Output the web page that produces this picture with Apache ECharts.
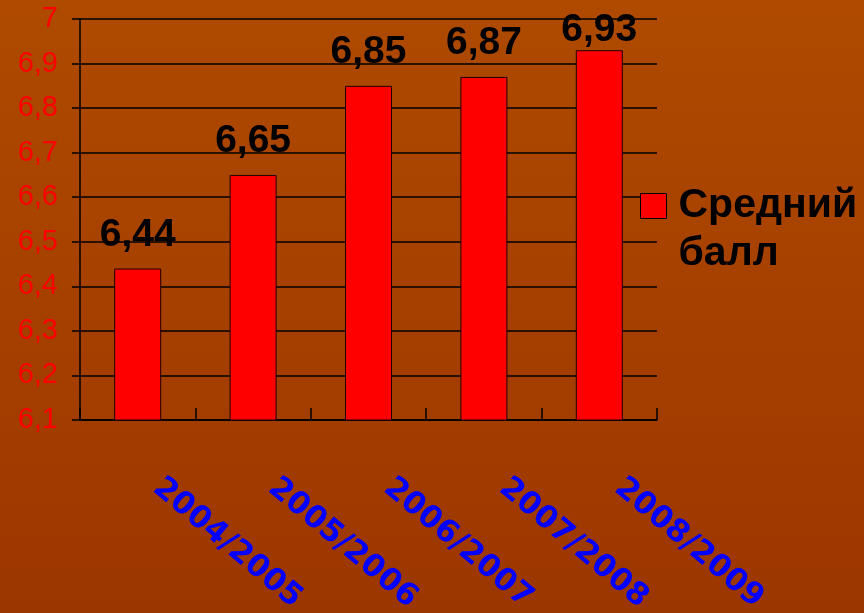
<!DOCTYPE html>
<html>
<head>
<meta charset="utf-8">
<script src="https://cdn.jsdelivr.net/npm/echarts@6/dist/echarts.min.js"></script>
<style>
html,body{margin:0;padding:0;width:864px;height:613px;overflow:hidden;}
#chart{width:864px;height:613px;}
</style>
</head>
<body>
<div id="chart"></div>
<script>
var categories = ['2004/2005', '2005/2006', '2006/2007', '2007/2008', '2008/2009'];
var seriesName = 'Средний балл';
var values = [6.44, 6.65, 6.85, 6.87, 6.93];
var yMin = 6.1, yMax = 7.0, yStep = 0.1;

var chart = echarts.init(document.getElementById('chart'));
chart.setOption({
  backgroundColor: {
    type: 'linear', x: 0, y: 0, x2: 0, y2: 1,
    colorStops: [{offset: 0, color: '#AF4A00'}, {offset: 1, color: '#9C3600'}]
  },
  animation: false,
  grid: {left: 80, right: 207, top: 19, bottom: 193, containLabel: false, outerBoundsMode: 'none'},
  legend: {
    data: [seriesName],
    orient: 'vertical',
    left: 640,
    top: 134,
    padding: 0,
    icon: 'rect',
    itemWidth: 26,
    itemHeight: 25,
    formatter: function () { return ' \nСредний\nбалл'; },
    itemStyle: {borderColor: '#000', borderWidth: 1},
    textStyle: {
      fontFamily: 'Liberation Sans, Arial, sans-serif',
      fontWeight: 'bold',
      fontSize: 41,
      lineHeight: 48,
      color: '#000',
      padding: [0, 0, 0, 7]
    }
  },
  xAxis: {
    type: 'category',
    data: categories,
    boundaryGap: true,
    axisLine: {show: true, lineStyle: {color: '#000', width: 1.5}},
    axisTick: {show: true, inside: true, length: 12, alignWithLabel: false, lineStyle: {color: '#000', width: 1.5}},
    axisLabel: {
      rotate: -40,
      margin: 48,
      padding: [0, 0, 0, 25],
      interval: 0,
      color: '#0000FF',
      fontFamily: 'DejaVu Sans, sans-serif',
      fontWeight: 'bold',
      fontSize: 31
    },
    splitLine: {show: false}
  },
  yAxis: {
    type: 'value',
    min: yMin,
    max: yMax,
    interval: yStep,
    axisLine: {show: true, lineStyle: {color: '#000', width: 1.5}},
    axisTick: {show: true, inside: false, length: 8, lineStyle: {color: '#000', width: 1.5}},
    axisLabel: {
      margin: 22,
      color: '#FF0000',
      fontFamily: 'Liberation Sans, Arial, sans-serif',
      fontSize: 29,
      formatter: function (v) {
        return String(Math.round(v * 10) / 10).replace('.', ',');
      }
    },
    splitLine: {show: true, lineStyle: {color: '#000', width: 1.5}}
  },
  series: [{
    name: seriesName,
    type: 'bar',
    data: values,
    barWidth: 47,
    itemStyle: {color: '#FF0000', borderColor: '#200000', borderWidth: 1},
    label: {
      show: true,
      position: 'top',
      distance: 14,
      color: '#000',
      fontFamily: 'Liberation Sans, Arial, sans-serif',
      fontWeight: 'bold',
      fontSize: 39,
      formatter: function (p) { return p.value.toFixed(2).replace('.', ','); }
    },
    labelLayout: function (p) {
      var minTop = 11;
      return p.labelRect.y < minTop ? {dy: minTop - p.labelRect.y} : {};
    }
  }]
});
</script>
</body>
</html>
